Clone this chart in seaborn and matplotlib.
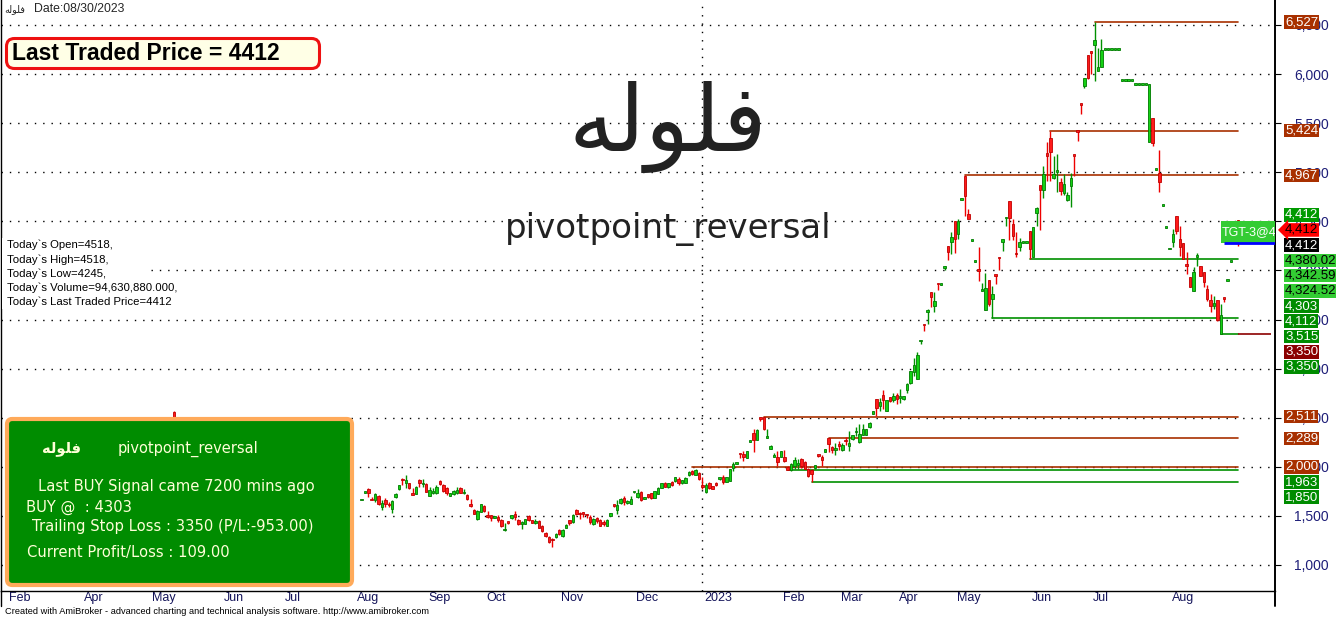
import numpy as np
import pandas as pd
import matplotlib
matplotlib.use("Agg")
import matplotlib.pyplot as plt
import matplotlib.transforms as mtransforms
from matplotlib.patches import FancyBboxPatch, Rectangle
from matplotlib.lines import Line2D
import seaborn as sns

# ---------------- data ----------------
symbol = "فلوله"
system = "pivotpoint_reversal"

# bar number = trading day counted from the left edge of the chart
bars = [51] + list(range(106, 364))
opens = [2560,
    1661, 1738, 1772, 1663, 1660, 1701, 1592, 1660, 1612, 1575,
    1691, 1769, 1866, 1837, 1830, 1735, 1721, 1867, 1821, 1827,
    1704, 1733, 1728, 1854, 1816, 1782, 1704, 1721, 1728, 1789,
    1729, 1711, 1626, 1565, 1466, 1541, 1602, 1492, 1507, 1480,
    1490, 1459, 1354, 1431, 1476, 1524, 1456, 1420, 1422, 1500,
    1456, 1429, 1453, 1395, 1330, 1289, 1254, 1283, 1357, 1296,
    1381, 1456, 1436, 1565, 1519, 1526, 1512, 1490, 1415, 1480,
    1463, 1424, 1395, 1497, 1604, 1558, 1633, 1687, 1634, 1619,
    1740, 1694, 1745, 1675, 1718, 1728, 1684, 1721, 1786, 1840,
    1796, 1850, 1857, 1878, 1830, 1837, 1912, 1956, 1915, 1939,
    1799, 1743, 1838, 1804, 1838, 1877, 1899, 1845, 1855, 1984,
    2029, 2133, 2133, 2093, 2257, 2347, 2272, 2490, 2510, 2298,
    2184, 2101, 2100, 2103, 2103, 2001, 1964, 2008, 2023, 2076,
    2052, 1974, 1964, 1984, 2116, 2103, 2150, 2289, 2198, 2167,
    2228, 2171, 2264, 2211, 2279, 2352, 2252, 2327, 2323, 2405,
    2537, 2687, 2619, 2727, 2568, 2707, 2680, 2727, 2702, 2687,
    2782, 2849, 2966, 2898, 3279, 3446, 3572, 3776, 3640, 3861,
    3855, 4024, 4245, 4293, 4500, 4371, 4722, 4959, 4575, 4304,
    4090, 3999, 3794, 3599, 3898, 3711, 3949, 4129, 4293, 4529,
    4704, 4473, 4169, 4235, 4284, 4284, 4398, 4140, 4582, 4871,
    4823, 5195, 5348, 4944, 5003, 4896, 4788, 4720, 4863, 5170,
    5415, 5690, 5881, 6193, 6231, 6299, 6027, 6068, 6249, 6249,
    6249, 6249, 6249, 5933, 5933, 5933, 5933, 5893, 5893, 5893,
    5893, 5311, 5548, 5027, 4992, 4660, 4436, 4216, 4292, 4550,
    4319, 4275, 4050, 3936, 3793, 4138, 4041, 3980, 3810, 3698,
    3633, 3698, 3352, 3715, 3893, 4090, 4294, 4518]
highs = [2568,
    1665, 1748, 1782, 1694, 1735, 1711, 1660, 1687, 1643, 1660,
    1735, 1813, 1881, 1915, 1840, 1779, 1803, 1871, 1871, 1830,
    1796, 1786, 1813, 1864, 1820, 1796, 1738, 1762, 1796, 1796,
    1769, 1721, 1667, 1575, 1558, 1622, 1609, 1551, 1514, 1500,
    1514, 1466, 1429, 1432, 1507, 1548, 1473, 1446, 1473, 1504,
    1459, 1473, 1456, 1405, 1337, 1296, 1279, 1323, 1364, 1368,
    1415, 1463, 1517, 1572, 1541, 1544, 1524, 1504, 1480, 1490,
    1470, 1456, 1466, 1534, 1606, 1660, 1687, 1701, 1660, 1704,
    1748, 1769, 1755, 1691, 1721, 1735, 1755, 1796, 1833, 1847,
    1837, 1854, 1898, 1891, 1867, 1891, 1953, 1966, 1973, 1946,
    1899, 1838, 1845, 1808, 1841, 1889, 1913, 1899, 1977, 2047,
    2035, 2133, 2157, 2164, 2262, 2381, 2381, 2490, 2511, 2381,
    2218, 2144, 2161, 2161, 2171, 2005, 2042, 2103, 2076, 2093,
    2059, 1991, 1974, 2018, 2116, 2116, 2181, 2289, 2211, 2239,
    2262, 2245, 2303, 2364, 2323, 2408, 2432, 2432, 2385, 2456,
    2568, 2690, 2704, 2782, 2680, 2714, 2748, 2754, 2795, 2723,
    2856, 2980, 3112, 3170, 3283, 3446, 3606, 3776, 3776, 3861,
    3861, 4041, 4245, 4388, 4500, 4524, 4728, 4967, 4626, 4308,
    4094, 4235, 3871, 3973, 3898, 3837, 3949, 4129, 4320, 4533,
    4704, 4524, 4388, 4330, 4288, 4288, 4398, 4439, 4643, 4871,
    5068, 5311, 5424, 5168, 5185, 4942, 4981, 4795, 4992, 5170,
    5415, 5690, 5956, 6193, 6238, 6527, 6261, 6356, 6253, 6253,
    6253, 6253, 6253, 5937, 5937, 5937, 5937, 5897, 5897, 5897,
    5897, 5895, 5548, 5031, 5226, 4664, 4440, 4220, 4421, 4550,
    4448, 4275, 4184, 3936, 4031, 4173, 4041, 3987, 3854, 3759,
    3742, 3698, 3657, 3715, 3897, 4094, 4298, 4518]
lows = [2300,
    1661, 1735, 1694, 1660, 1643, 1609, 1558, 1592, 1592, 1534,
    1680, 1765, 1813, 1779, 1772, 1714, 1718, 1796, 1796, 1742,
    1701, 1725, 1721, 1813, 1748, 1708, 1701, 1711, 1721, 1728,
    1721, 1660, 1592, 1517, 1456, 1538, 1541, 1483, 1446, 1476,
    1439, 1388, 1344, 1415, 1473, 1456, 1412, 1371, 1420, 1453,
    1429, 1422, 1378, 1334, 1286, 1228, 1184, 1279, 1303, 1289,
    1378, 1405, 1432, 1507, 1466, 1490, 1483, 1422, 1408, 1429,
    1395, 1398, 1392, 1494, 1588, 1524, 1619, 1609, 1626, 1616,
    1738, 1687, 1653, 1667, 1687, 1677, 1680, 1718, 1782, 1792,
    1789, 1803, 1850, 1816, 1827, 1833, 1905, 1915, 1912, 1867,
    1777, 1736, 1770, 1774, 1808, 1870, 1821, 1841, 1852, 1957,
    2027, 2093, 2059, 2089, 2255, 2150, 2269, 2470, 2374, 2296,
    2181, 2096, 2008, 2100, 2049, 1964, 1957, 1981, 1974, 1991,
    1974, 1896, 1850, 1981, 2100, 2008, 2147, 2150, 2144, 2123,
    2171, 2161, 2218, 2161, 2276, 2313, 2245, 2320, 2320, 2395,
    2534, 2517, 2568, 2585, 2564, 2659, 2659, 2636, 2653, 2683,
    2754, 2845, 2925, 2891, 3255, 3384, 3456, 3623, 3578, 3803,
    3853, 4007, 4109, 4167, 4177, 4320, 4720, 4558, 4524, 4304,
    4090, 3895, 3794, 3599, 3633, 3515, 3861, 4007, 4201, 4456,
    4310, 4313, 4140, 4201, 4284, 4284, 4112, 4140, 4456, 4415,
    4735, 4913, 4913, 4930, 4801, 4767, 4767, 4710, 4649, 4964,
    5321, 5592, 5854, 5949, 6000, 5932, 6027, 6068, 6249, 6249,
    6249, 6249, 6249, 5933, 5933, 5933, 5933, 5893, 5893, 5893,
    5893, 5311, 5270, 5027, 4795, 4660, 4436, 4216, 4235, 4370,
    4150, 4116, 3963, 3834, 3793, 4048, 3946, 3827, 3691, 3579,
    3606, 3487, 3350, 3675, 3893, 4090, 4294, 4245]
closes = [2350,
    1665, 1745, 1728, 1660, 1721, 1619, 1633, 1626, 1606, 1650,
    1725, 1810, 1862, 1864, 1786, 1714, 1796, 1837, 1825, 1745,
    1759, 1737, 1799, 1823, 1752, 1735, 1735, 1752, 1762, 1735,
    1733, 1667, 1599, 1524, 1551, 1619, 1551, 1488, 1480, 1497,
    1456, 1395, 1371, 1427, 1504, 1490, 1415, 1424, 1470, 1456,
    1432, 1453, 1381, 1344, 1293, 1235, 1250, 1320, 1313, 1361,
    1412, 1429, 1510, 1517, 1515, 1522, 1508, 1439, 1473, 1449,
    1398, 1420, 1463, 1531, 1600, 1609, 1677, 1643, 1638, 1677,
    1744, 1738, 1660, 1679, 1691, 1684, 1752, 1789, 1830, 1796,
    1830, 1810, 1891, 1830, 1864, 1884, 1946, 1922, 1966, 1874,
    1795, 1811, 1787, 1777, 1811, 1881, 1845, 1896, 1974, 2031,
    2033, 2129, 2100, 2161, 2261, 2272, 2378, 2486, 2388, 2302,
    2215, 2105, 2049, 2157, 2055, 1967, 2025, 2066, 2027, 2008,
    1981, 1906, 1923, 2015, 2112, 2066, 2177, 2232, 2171, 2194,
    2211, 2218, 2260, 2239, 2320, 2356, 2330, 2388, 2381, 2449,
    2564, 2602, 2663, 2680, 2676, 2670, 2720, 2693, 2706, 2720,
    2839, 2972, 3034, 3136, 3283, 3442, 3595, 3725, 3687, 3857,
    3859, 4041, 4191, 4337, 4320, 4500, 4726, 4762, 4524, 4308,
    4094, 3995, 3798, 3817, 3657, 3759, 3945, 4125, 4320, 4533,
    4531, 4347, 4165, 4286, 4288, 4288, 4218, 4439, 4633, 4823,
    4983, 5161, 5209, 4981, 5007, 4812, 4880, 4767, 4937, 5166,
    5411, 5686, 5956, 5956, 6210, 6346, 6068, 6248, 6253, 6253,
    6253, 6253, 6253, 5937, 5937, 5937, 5937, 5897, 5897, 5897,
    5897, 5895, 5297, 5031, 4903, 4664, 4440, 4220, 4370, 4404,
    4241, 4116, 4046, 3834, 3980, 4142, 3946, 3878, 3708, 3640,
    3667, 3494, 3545, 3711, 3897, 4094, 4298, 4412]

month_labels = ["Feb", "Apr", "May", "Jun", "Jul", "Aug", "Sep", "Oct", "Nov", "Dec",
                "2023", "Feb", "Mar", "Apr", "May", "Jun", "Jul", "Aug"]
month_bars = [2, 24, 44, 65, 83, 104, 125, 142, 164, 186, 206, 229, 246, 263, 280, 302, 320, 343]
year_bar = 206
last_bar = 363

# pivot levels drawn until the last bar
red_levels = [6527, 5424, 4967, 2511, 2289, 2000]
red_start = [321, 308, 283, 224, 243, 203]
green_levels = [4112, 3515, 3350, 1963, 1850]
green_start = [302, 291, 358, 231, 238]
stop_level = 3350
target_level = 4279

# price tags on the right (stacked around the last price)
last_price = 4412
tags_above = [("4,412", 4412, "#009A00", "white"), ("4,967", 4967, "#A83000", "white"),
              ("5,424", 5424, "#A83000", "white"), ("6,527", 6527, "#A83000", "white")]
tags_below = [("4,412", 4412, "black", "white"), ("4,380.02", 4380.02, "#33CC33", "black"),
              ("4,342.59", 4342.59, "#33CC33", "black"), ("4,324.52", 4324.52, "#33CC33", "black"),
              ("4,303", 4303, "#008C00", "white"), ("4,112", 4112, "#008C00", "white"),
              ("3,515", 3515, "#008C00", "white"), ("3,350", 3350, "#8B0000", "white"),
              ("3,350", 3350, "#008C00", "white"), ("2,511", 2511, "#A83000", "white"),
              ("2,289", 2289, "#A83000", "white"), ("2,000", 2000, "#A83000", "white"),
              ("1,963", 1963, "#008C00", "white"), ("1,850", 1850, "#008C00", "white")]

today_lines = ["Today`s Open=4518,", "Today`s High=4518,", "Today`s Low=4245,",
               "Today`s Volume=94,630,880.000,", "Today`s Last Traded Price=4412"]

# ---------------- helpers ----------------
AR_FORMS = {  # isolated, final, initial, medial
    "ف": ("\ufed1", "\ufed2", "\ufed3", "\ufed4"),
    "ل": ("\ufedd", "\ufede", "\ufedf", "\ufee0"),
    "و": ("\ufeed", "\ufeee", None, None),
    "ه": ("\ufee9", "\ufeea", "\ufeeb", "\ufeec"),
}


def shape_ar(s):
    out = []
    for i, ch in enumerate(s):
        f = AR_FORMS[ch]
        prev_joins = i > 0 and AR_FORMS[s[i - 1]][2] is not None
        next_joins = i < len(s) - 1 and f[2] is not None
        if prev_joins and next_joins:
            g = f[3]
        elif prev_joins:
            g = f[1]
        elif next_joins:
            g = f[2]
        else:
            g = f[0]
        out.append(g)
    return "".join(reversed(out))


W, H = 1336, 619


def fx(px):
    return px / W


def fy(py):
    return 1 - py / H


sns.set_style("white")
plt.rcParams["font.family"] = ["Liberation Sans", "DejaVu Sans"]
AR = ["DejaVu Sans"]

fig = plt.figure(figsize=(W / 100, H / 100), dpi=100)
ax = fig.add_axes([fx(1), 28 / H, 1274 / W, 591 / H])

df = pd.DataFrame({"bar": bars, "open": opens, "high": highs, "low": lows, "close": closes})
up = (df["close"] >= df["open"]).values

# wicks and bodies
ax.vlines(df["bar"], df["low"], df["high"], colors=np.where(up, "#009000", "#EE0000"),
          linewidth=1.0, zorder=3)
body_lo = np.minimum(df["open"], df["close"])
body_h = np.maximum((df["close"] - df["open"]).abs(), 16)
ax.bar(df["bar"], body_h, bottom=body_lo, width=0.72,
       color=np.where(up, "#14D214", "#FF1A1A"),
       edgecolor=np.where(up, "#007A00", "#C00000"), linewidth=0.6, zorder=4)

# pivot lines
rows = []
for v, s in zip(red_levels, red_start):
    rows += [("r%d" % v, s, v), ("r%d" % v, last_bar, v)]
red_df = pd.DataFrame(rows, columns=["lvl", "bar", "price"])
rows = []
for v, s in zip(green_levels, green_start):
    rows += [("g%d" % v, s, v), ("g%d" % v, last_bar, v)]
green_df = pd.DataFrame(rows, columns=["lvl", "bar", "price"])
sns.lineplot(data=red_df, x="bar", y="price", units="lvl", estimator=None,
             color="#A83000", linewidth=1.2, ax=ax, legend=False, zorder=2.5)
sns.lineplot(data=green_df, x="bar", y="price", units="lvl", estimator=None,
             color="#009000", linewidth=1.2, ax=ax, legend=False, zorder=2.5)
ax.hlines(stop_level, last_bar, 372.7, color="#8B0000", linewidth=1.2, zorder=2.5)

# target box
ax.add_patch(Rectangle((358.1, 4279), 20, 224, facecolor="#33CC33", edgecolor="none", zorder=6))
ax.hlines(target_level, 359, 380, color="#0000FF", linewidth=2, zorder=7)
ax.text(358.4, 4395, "TGT-3@4380.02", color="white", fontsize=9, va="center", ha="left",
        zorder=7, clip_on=True)

ax.set_xlim(0.29, 373.9)
ax.set_ylim(735, 6754)
ax.set_xlabel("")
ax.set_ylabel("")

yt = list(range(1000, 6501, 500))
ax.set_yticks(yt)
ax.set_yticklabels([f"{v:,}" for v in yt])
ax.yaxis.tick_right()
ax.tick_params(axis="y", direction="out", length=4, width=0.8, pad=10, labelsize=10,
               labelcolor="#1E1E78", color="black")
ax.set_xticks(month_bars)
ax.set_xticklabels(month_labels)
ax.tick_params(axis="x", direction="out", length=4.5, width=0.8, pad=-3.5, labelsize=9,
               labelcolor="#14145A", color="black")
offset = mtransforms.ScaledTranslation(2 / 100, 0, fig.dpi_scale_trans)
for lbl in ax.get_xticklabels():
    lbl.set_horizontalalignment("left")
    lbl.set_transform(lbl.get_transform() + offset)

ax.grid(axis="y", color="black", linestyle=(0, (1, 5)), linewidth=1.0)
ax.grid(axis="x", visible=False)
ax.axvline(year_bar, color="black", linestyle=(0, (1, 5)), linewidth=1.0, zorder=1)
ax.set_axisbelow(True)

ax.spines["top"].set_visible(False)
ax.spines["left"].set_linewidth(1.0)
ax.spines["bottom"].set_linewidth(1.0)
ax.spines["right"].set_linewidth(1.4)
for sp in ax.spines.values():
    sp.set_color("black")
fig.add_artist(Line2D([fx(1), fx(1)], [fy(591), fy(606)], color="black", lw=1.0))
fig.add_artist(Line2D([fx(1275), fx(1275)], [fy(591), fy(606)], color="black", lw=1.4))

# price tags
trans = mtransforms.blended_transform_factory(ax.transAxes, ax.transData)
tag_x = (1285 - 1) / 1274
gap = 155


def price_tag(txt, y, bg, fg, style="square,pad=0.06"):
    ax.text(tag_x, y, txt, transform=trans, ha="left", va="center", fontsize=9.5, color=fg,
            bbox=dict(boxstyle=style, facecolor=bg, edgecolor="none"), clip_on=False, zorder=8)


pos = last_price
for txt, v, bg, fg in tags_above:
    pos = max(v, pos + gap)
    price_tag(txt, pos, bg, fg)
pos = last_price
for txt, v, bg, fg in tags_below:
    pos = min(v, pos - gap)
    price_tag(txt, pos, bg, fg)
price_tag(f"{last_price:,}", last_price, "#FF0000", "black", style="larrow,pad=0.06")

# ---------------- annotations ----------------
fig.text(fx(4), fy(9), shape_ar(symbol), family=AR, fontsize=7, va="center", ha="left")
fig.text(fx(34), fy(9), "Date:08/30/2023", fontsize=8.8, va="center", ha="left")

box = FancyBboxPatch((fx(6.5), fy(68.5)), fx(319.5) - fx(6.5), fy(38.5) - fy(68.5),
                     boxstyle="round,pad=0,rounding_size=0.006", mutation_aspect=W / H,
                     transform=fig.transFigure, facecolor="#FFFFE6", edgecolor="#EE1111", linewidth=2.2)
fig.add_artist(box)
fig.text(fx(12), fy(54), "Last Traded Price = 4412", fontsize=16.5, fontweight="bold",
         va="center", ha="left", color="black")

fig.text(fx(668), fy(127), shape_ar(symbol), family=AR, fontsize=66,
         color="#222222", va="center", ha="center")
fig.text(fx(668), fy(229), system, family=["DejaVu Sans"], fontsize=24.5, color="#222222",
         va="center", ha="center")

# white strip behind the info block hides the dotted grid there
fig.add_artist(Rectangle((fx(2), fy(309)), fx(147) - fx(2), fy(238) - fy(309),
                         transform=fig.transFigure, facecolor="white", edgecolor="none"))
for i, line in enumerate(today_lines):
    fig.text(fx(7), fy(245 + i * 14.3), line, fontsize=8.2, va="center", ha="left", color="black")

panel = FancyBboxPatch((fx(7), fy(585)), fx(352) - fx(7), fy(419) - fy(585),
                       boxstyle="round,pad=0,rounding_size=0.004", mutation_aspect=W / H,
                       transform=fig.transFigure, facecolor="#008C00", edgecolor="#FFAA5A", linewidth=3)
fig.add_artist(panel)
pc = "#FFFFD8"
fig.text(fx(42), fy(449), shape_ar(symbol), family=AR, fontsize=10.5, fontweight="bold",
         color=pc, va="center", ha="left")
fig.text(fx(118), fy(449), system, family=["DejaVu Sans"], fontsize=10.5, color=pc, va="center", ha="left")
panel_lines = [(38, 487, "Last BUY Signal came 7200 mins ago"),
               (26, 507, "BUY @  : 4303"),
               (32, 527, "Trailing Stop Loss : 3350 (P/L:-953.00)"),
               (27, 552, "Current Profit/Loss : 109.00")]
for x0, y0, t in panel_lines:
    fig.text(fx(x0), fy(y0), t, family=["DejaVu Sans"], fontsize=10.6, color=pc,
             va="center", ha="left")

fig.text(fx(5), fy(612), "Created with AmiBroker - advanced charting and technical analysis software. "
         "http://www.amibroker.com", fontsize=6.7, va="center", ha="left", color="black")

fig.savefig("out.png", dpi=100, facecolor="white")
